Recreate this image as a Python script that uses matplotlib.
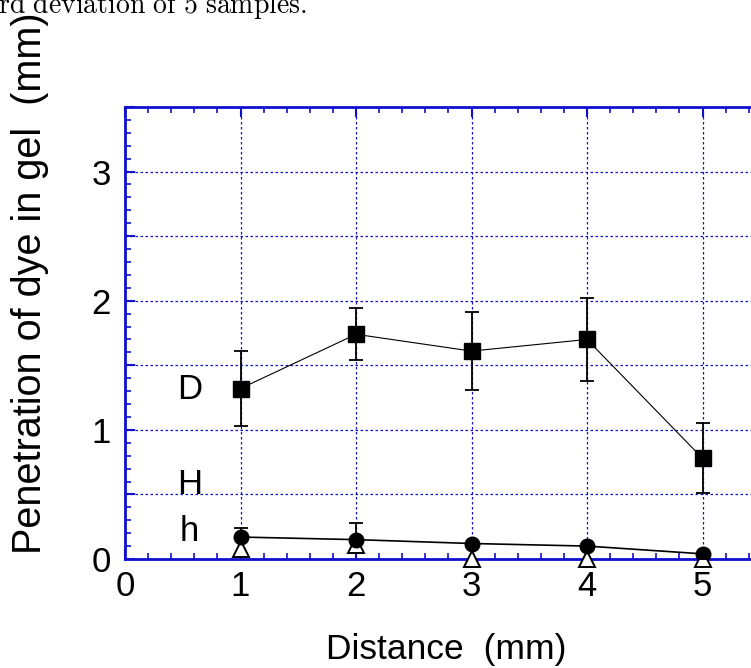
import matplotlib
matplotlib.use("Agg")
import matplotlib.pyplot as plt
from matplotlib.ticker import MultipleLocator, FuncFormatter

plt.rcParams['font.family'] = ['Liberation Sans', 'DejaVu Sans']
plt.rcParams['mathtext.fontset'] = 'cm'

distance = [1, 2, 3, 4, 5]
D_vals = [1.32, 1.74, 1.61, 1.70, 0.78]
D_err = [0.29, 0.20, 0.30, 0.32, 0.27]
h_vals = [0.17, 0.15, 0.12, 0.10, 0.04]
h_err = [0.07, 0.13, 0.0, 0.0, 0.0]
H_vals = [0.08, 0.11, 0.0, 0.0, 0.0]

series_labels = ["D", "H", "h"]
label_pos_y = [1.31, 0.58, 0.21]

blue = '#1010d0'

fig = plt.figure(figsize=(7.51, 6.68), dpi=100)
ax = fig.add_axes([125/751, 1-559/668, (818-125)/751, (559-107)/668])

ax.errorbar(distance, D_vals, yerr=D_err, fmt='s', color='black', ms=12,
            ecolor='black', elinewidth=1.3, capsize=5, capthick=1.3, zorder=5)
ax.plot(distance, D_vals, '-', color='black', lw=0.8, zorder=4)
ax.errorbar(distance, h_vals, yerr=[[0]*5, h_err], fmt='none',
            ecolor='black', elinewidth=1.3, capsize=5, capthick=1.3, zorder=5)
ax.plot(distance, h_vals, '-o', color='black', lw=1.2, ms=10.5, zorder=6)
ax.plot(distance, H_vals, '^', color='black', mfc='white', mew=1.4, ms=11,
        linestyle='none', zorder=5, clip_on=False)

for lab, yy in zip(series_labels, label_pos_y):
    ax.text(0.56, yy, lab, fontsize=25, ha='center', va='center')

ax.set_xlim(0, 6)
ax.set_ylim(0, 3.5)
ax.xaxis.set_major_locator(MultipleLocator(1))
ax.xaxis.set_minor_locator(MultipleLocator(0.2))
ax.yaxis.set_major_locator(MultipleLocator(0.5))
ax.yaxis.set_minor_locator(MultipleLocator(0.1))
ax.yaxis.set_major_formatter(FuncFormatter(
    lambda v, p: f"{int(round(v))}" if abs(v - round(v)) < 1e-6 else ""))
ax.xaxis.set_major_formatter(FuncFormatter(
    lambda v, p: f"{int(round(v))}" if v < 5.5 else ""))

ax.tick_params(which='both', direction='in', top=True, right=True, color=blue)
ax.tick_params(which='major', length=7, width=1.5, labelsize=25, pad=10)
ax.tick_params(which='minor', length=4, width=1.2)
ax.tick_params(axis='x', which='major', pad=8)

for s in ax.spines.values():
    s.set_color(blue)
    s.set_linewidth(2)

ax.grid(True, which='major', color=blue, linestyle=(0, (2, 2)), linewidth=0.9)

ax.set_xlabel("Distance  (mm)", fontsize=25.5)
ax.set_ylabel("Penetration of dye in gel  (mm)", fontsize=28.5)
ax.yaxis.set_label_coords(30/751, 1-283/668, transform=fig.transFigure)
ax.xaxis.set_label_coords(446/751, 1-650/668, transform=fig.transFigure)
ax.xaxis.label.set_va('center')
ax.yaxis.label.set_va('center')

fig.text(307/751, 1 - 5.5/668, r'$\mathrm{standard\ deviation\ of\ 5\ samples.}$',
         fontsize=20, ha='right', va='center')

fig.savefig("out.png", dpi=100)
